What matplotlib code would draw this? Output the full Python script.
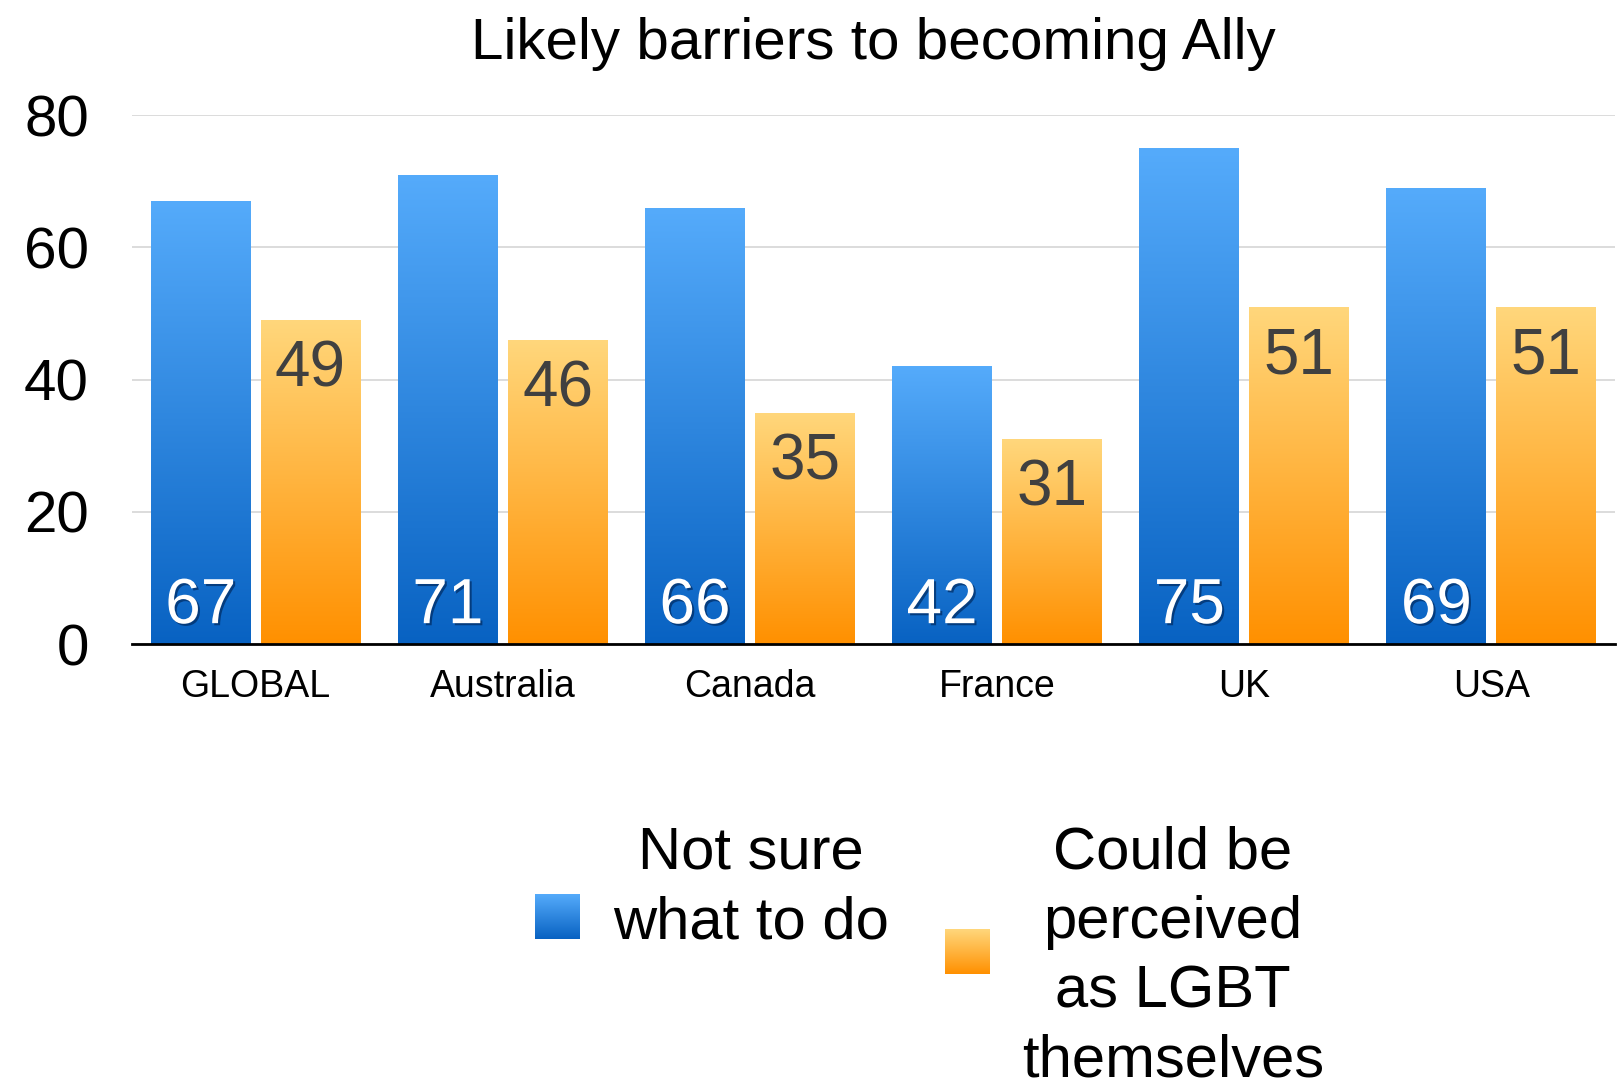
import numpy as np
import matplotlib
matplotlib.use("Agg")
import matplotlib.pyplot as plt
import matplotlib.patheffects as pe
from matplotlib.colors import LinearSegmentedColormap

plt.rcParams['font.family'] = ['Liberation Sans', 'DejaVu Sans']

countries = ["GLOBAL", "Australia", "Canada", "France", "UK", "USA"]
not_sure = [67, 71, 66, 42, 75, 69]
perceived_lgbt = [49, 46, 35, 31, 51, 51]
series_names = ["Not sure\nwhat to do", "Could be\nperceived\nas LGBT\nthemselves"]
yticks = [0, 20, 40, 60, 80]

blue_cm = LinearSegmentedColormap.from_list("blue", ["#0862c2", "#55abfb"])
orange_cm = LinearSegmentedColormap.from_list("orange", ["#ff9000", "#ffd77c"])

fig = plt.figure(figsize=(16.18, 10.8), dpi=100)
ax = fig.add_axes([0.0816, 0.4037, 0.9164, 0.4898])

x = np.arange(len(countries))
w = 0.404
off = 0.222
grad = np.linspace(0, 1, 256).reshape(-1, 1)


def gradient_bars(bars, cmap):
    for b in bars:
        x0, y0 = b.get_x(), b.get_y()
        im = ax.imshow(grad, cmap=cmap, origin="lower", aspect="auto",
                       extent=[x0, x0 + b.get_width(), y0, y0 + b.get_height()],
                       zorder=2)
        im.set_clip_path(b)


b1 = ax.bar(x - off, not_sure, w, color="none", zorder=2)
b2 = ax.bar(x + off, perceived_lgbt, w, color="none", zorder=2)
gradient_bars(b1, blue_cm)
gradient_bars(b2, orange_cm)

shadow = [pe.withSimplePatchShadow(offset=(1.5, -1.5), shadow_rgbFace="#002a60", alpha=0.7)]
for xi, v in zip(x - off, not_sure):
    ax.annotate(str(v), (xi, 0), xytext=(0, 15), textcoords="offset points",
                ha="center", va="baseline", fontsize=46, color="white",
                path_effects=shadow, zorder=4)
for xi, v in zip(x + off, perceived_lgbt):
    ax.annotate(str(v), (xi, v), xytext=(0, -48), textcoords="offset points",
                ha="center", va="baseline", fontsize=46, color="#404040", zorder=4)

ax.set_xlim(-0.5, len(countries) - 0.5)
ax.set_ylim(0, 80)
ax.set_yticks(yticks)
ax.set_yticklabels([str(t) for t in yticks], fontsize=42)
ax.set_xticks(x)
ax.set_xticklabels(countries, fontsize=27)
ax.tick_params(axis="y", length=0, pad=31)
ax.tick_params(axis="x", length=0, pad=18)
ax.grid(axis="y", color="#d9d9d9", linewidth=1.3, zorder=0)
ax.set_axisbelow(True)
for s in ["top", "right", "left"]:
    ax.spines[s].set_visible(False)
ax.spines["bottom"].set_linewidth(2)
ax.spines["bottom"].set_zorder(5)
ax.set_title("Likely barriers to becoming Ally", fontsize=42, pad=40)

# legend drawn in pixel space below the plot
lg = fig.add_axes([0, 0, 1, 1], zorder=-1)
lg.axis("off")
legend_items = [
    (series_names[0], blue_cm, (535, 894), 751, 888),
    (series_names[1], orange_cm, (945, 929), 1173, 957),
]
for label, cmap, (px, py), tx, ty in legend_items:
    lg.imshow(grad, cmap=cmap, origin="lower", aspect="auto",
              extent=[px, px + 45, py + 45, py])
    lg.text(tx, ty, label, ha="center", va="center", fontsize=43,
            linespacing=1.33, multialignment="center")
lg.set_xlim(0, 1618)
lg.set_ylim(1080, 0)

fig.savefig("out.png", dpi=100)
